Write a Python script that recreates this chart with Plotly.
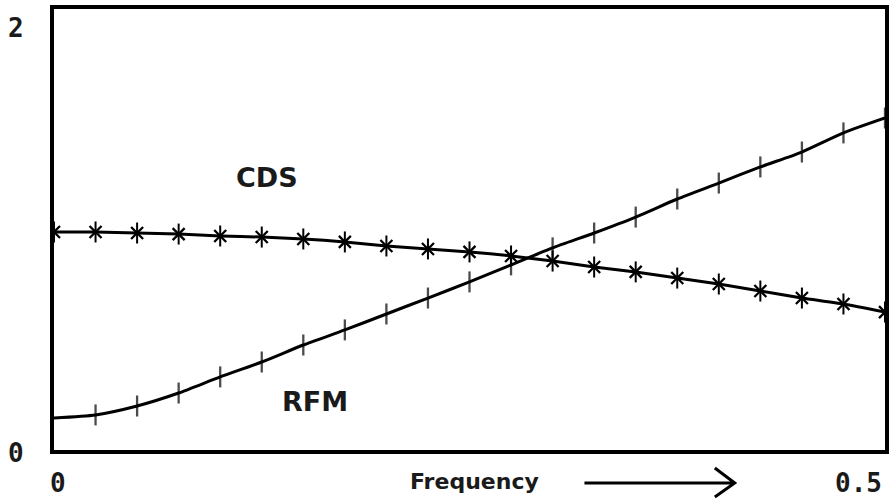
import plotly.graph_objects as go

# ---- data ----
freq = [0.0, 0.025, 0.05, 0.075, 0.1, 0.125, 0.15, 0.175, 0.2, 0.225, 0.25,
        0.275, 0.3, 0.325, 0.35, 0.375, 0.4, 0.425, 0.45, 0.475, 0.5]
cds = [1.026, 1.026, 1.021, 1.016, 1.007, 1.002, 0.993, 0.979, 0.960, 0.946, 0.932,
       0.913, 0.889, 0.861, 0.838, 0.809, 0.781, 0.748, 0.715, 0.687, 0.649]
rfm = [0.151, 0.165, 0.207, 0.268, 0.344, 0.414, 0.494, 0.565, 0.640, 0.715, 0.791,
       0.871, 0.951, 1.021, 1.096, 1.181, 1.256, 1.332, 1.402, 1.492, 1.562]
y_tick_vals = [0, 2]
y_tick_text = ["0", "2"]
x_tick_vals = [0, 0.5]
x_tick_text = ["0", "0.5"]
x_title = "Frequency"
series_labels = {"CDS": (0.128, 1.28), "RFM": (0.157, 0.226)}

W, H = 891, 498
ML, MR, MT, MB = 54, 2, 9, 48
pw, ph = W - ML - MR, H - MT - MB

fig = go.Figure()
# CDS line with star-like markers (x + vertical stroke)
fig.add_trace(go.Scatter(x=freq, y=cds, mode="lines+markers",
                         line=dict(color="black", width=3, shape="spline", smoothing=0.6),
                         marker=dict(symbol="x-thin", size=12, color="black",
                                     line=dict(color="black", width=2.3))))
fig.add_trace(go.Scatter(x=freq, y=cds, mode="markers",
                         marker=dict(symbol="line-ns", size=15, color="black",
                                     line=dict(color="black", width=2))))
# RFM line with vertical tick markers
rfm_sizes = [0] + [15] * (len(rfm) - 1)
fig.add_trace(go.Scatter(x=freq, y=rfm, mode="lines+markers",
                         line=dict(color="black", width=3, shape="spline", smoothing=0.6),
                         marker=dict(symbol="line-ns", size=rfm_sizes, color="black",
                                     line=dict(color="black", width=2.3))))

ann = []
for name, (xx, yy) in series_labels.items():
    ann.append(dict(x=xx, y=yy, xref="x", yref="y", text="<b>%s</b>" % name,
                    showarrow=False, xanchor="center", yanchor="middle",
                    font=dict(family="DejaVu Sans", size=27, color="#1a1a1a")))
for v, t in zip(y_tick_vals, y_tick_text):
    ann.append(dict(x=(16 - ML) / pw, y=v, xref="paper", yref="y", text="<b>%s</b>" % t,
                    showarrow=False, xanchor="center", yanchor="middle",
                    yshift=-3,
                    font=dict(family="DejaVu Sans Mono", size=26, color="#1a1a1a")))
xlab_pos = {0: 58, 0.5: 862}
for v, t in zip(x_tick_vals, x_tick_text):
    ann.append(dict(x=(xlab_pos[v] - ML) / pw, y=(450 - 483) / ph, xref="paper", yref="paper",
                    text="<b>%s</b>" % t, showarrow=False, xanchor="center", yanchor="middle",
                    font=dict(family="DejaVu Sans Mono", size=26, color="#1a1a1a")))
ann.append(dict(x=(477 - ML) / pw, y=(450 - 481) / ph, xref="paper", yref="paper",
                text="<b>%s</b>" % x_title, showarrow=False, xanchor="center", yanchor="middle",
                font=dict(family="DejaVu Sans", size=22, color="#1a1a1a")))


def px(xp):
    return (xp - ML) / pw


def py(yp):
    return (450 - yp) / ph


shapes = [dict(type="path", xref="paper", yref="paper",
               path="M%f,%f L%f,%f M%f,%f L%f,%f L%f,%f" % (
                   px(587), py(483), px(737), py(483),
                   px(718), py(468), px(738), py(483), px(718), py(497)),
               line=dict(color="black", width=3))]

fig.update_layout(
    width=W, height=H, margin=dict(l=ML, r=MR, t=MT, b=MB),
    paper_bgcolor="white", plot_bgcolor="white", showlegend=False,
    annotations=ann, shapes=shapes,
    xaxis=dict(range=[0, 0.5], showgrid=False, zeroline=False, showticklabels=False,
               ticks="", showline=True, mirror=True, linecolor="black", linewidth=3.5),
    yaxis=dict(range=[0, 2.075], showgrid=False, zeroline=False, showticklabels=False,
               ticks="", showline=True, mirror=True, linecolor="black", linewidth=3.5),
)
fig.write_html("out.html", config={"displayModeBar": False},
               post_script="document.body.style.margin='0px';document.body.style.overflow='hidden';")
